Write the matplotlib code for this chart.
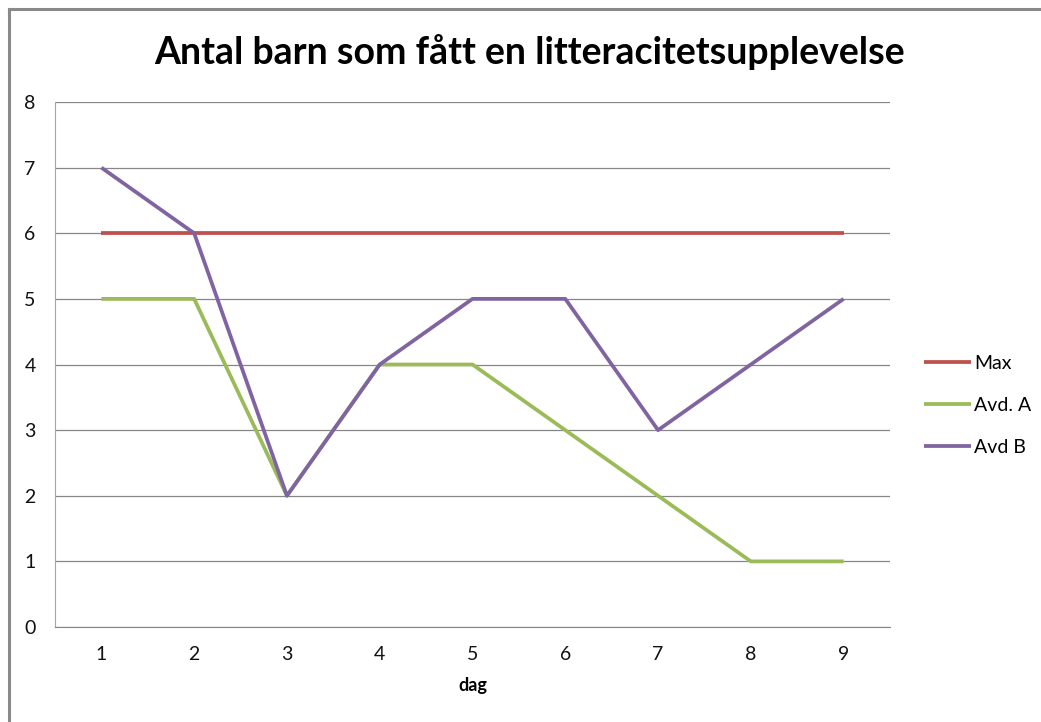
import matplotlib
matplotlib.use("Agg")
import matplotlib.pyplot as plt
from matplotlib.lines import Line2D

days = [1, 2, 3, 4, 5, 6, 7, 8, 9]
max_vals = [6, 6, 6, 6, 6, 6, 6, 6, 6]
avd_a = [5, 5, 2, 4, 4, 3, 2, 1, 1]
avd_b = [7, 6, 2, 4, 5, 5, 3, 4, 5]
series_names = ["Max", "Avd. A", "Avd B"]
colors = ["#C0504D", "#9BBB59", "#8064A2"]

plt.rcParams['font.family'] = ['Lato', 'DejaVu Sans']

W, H = 1041, 722
fig = plt.figure(figsize=(W / 100, H / 100), dpi=100)

# outer chart border (top and left visible)
fig.add_artist(Line2D([8.5 / W, 1.0], [1 - 8.5 / H, 1 - 8.5 / H], transform=fig.transFigure,
                      color="#898989", lw=2.2))
fig.add_artist(Line2D([8.5 / W, 8.5 / W], [0.0, 1 - 8.5 / H], transform=fig.transFigure,
                      color="#898989", lw=2.2))

ax = fig.add_axes([55 / W, 1 - 627 / H, (890 - 55) / W, (627 - 102) / H])

for vals, name, c in zip([max_vals, avd_a, avd_b], series_names, colors):
    ax.plot(days, vals, color=c, lw=2.7, label=name, solid_capstyle='butt', zorder=3)

ax.set_xlim(0.5, 9.5)
ax.set_ylim(0, 8)
ax.set_yticks(range(0, 9))
ax.set_xticks(days)
ax.yaxis.grid(True, color="#878787", lw=0.9)
ax.set_axisbelow(True)
for s in ["top", "right"]:
    ax.spines[s].set_visible(False)
ax.spines["left"].set_color("#A6A6A6")
ax.spines["bottom"].set_color("#878787")
ax.tick_params(length=0, labelsize=14, colors="#111111")
ax.tick_params(axis='y', pad=14)
ax.tick_params(axis='x', pad=14)

ax.set_xlabel("dag", fontsize=13, fontweight="bold", labelpad=10)
fig.text(530 / W, 1 - 52 / H, "Antal barn som fått en litteracitetsupplevelse",
         ha="center", va="center", fontsize=27, fontweight="bold")

leg = ax.legend(loc="center left", bbox_to_anchor=(1.02, 0.422), frameon=False,
                fontsize=14, handlelength=2.4, handletextpad=0.15, labelspacing=1.27)

fig.savefig("out.png", dpi=100)
